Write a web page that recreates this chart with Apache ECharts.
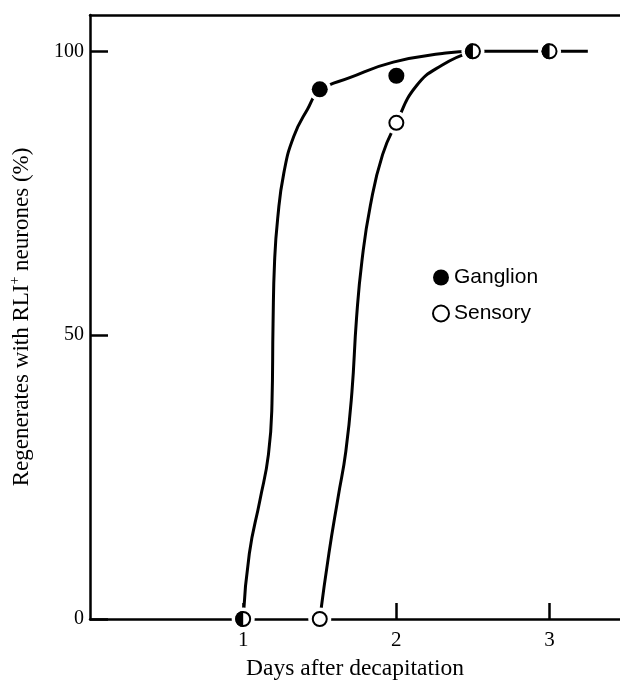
<!DOCTYPE html>
<html>
<head>
<meta charset="utf-8">
<script src="https://cdn.jsdelivr.net/npm/echarts@6/dist/echarts.min.js"></script>
<style>html,body{margin:0;padding:0;background:#fff}#c{width:620px;height:686px}</style>
</head>
<body>
<div id="c"></div>
<script>
// ---- data ----
var days = [1, 1.5, 2, 2.5, 3];
var ganglion = [0, 93.3, 95.7, 100, 100];
var sensory = [0, 0, 87.4, 100, 100];
var xTicks = [1, 2, 3];
var yTicks = [0, 50, 100];
// hand-fitted curves
var ganglionCurve = [[1,0],[1.04,11.5],[1.11,21],[1.165,29],[1.188,38],[1.195,52],[1.205,63],[1.225,70.5],[1.265,78.5],[1.33,85],[1.42,89.8],[1.5,93],[1.7,95.4],[1.98,98.1],[2.3,99.6],[2.5,100],[3,100],[3.25,100]];
var sensoryCurve = [[1.5,0],[1.56,11.6],[1.62,21.5],[1.67,29.5],[1.71,40],[1.74,53],[1.775,63],[1.83,72.8],[1.91,81.8],[2.0,87.4],[2.13,93.9],[2.3,97.6],[2.5,100]];

var serif = 'Liberation Serif';
var sans = 'Liberation Sans';
var halfDisc = 'path://M50,0 A50,50 0 0,0 50,100 Z';

var ganglionPts = days.map(function (d, i) {
  if (ganglion[i] === sensory[i]) {
    return { value: [d, ganglion[i]], symbol: halfDisc, symbolSize: [8, 16], symbolOffset: [-4, 0] };
  }
  return { value: [d, ganglion[i]] };
});
var sensoryPts = days.map(function (d, i) { return [d, sensory[i]]; });
var haloPts = [];
days.forEach(function (d, i) {
  haloPts.push([d, ganglion[i]]);
  if (sensory[i] !== ganglion[i]) haloPts.push([d, sensory[i]]);
});

var chart = echarts.init(document.getElementById('c'), null, { renderer: 'canvas' });
chart.setOption({
  animation: false,
  backgroundColor: '#fff',
  grid: { left: 83, right: 0, top: 15, bottom: 56, containLabel: false },
  legend: {
    orient: 'vertical', left: 427, top: 262,
    itemWidth: 16, itemHeight: 16, itemGap: 15, itemTextGap: 14,
    data: ['Ganglion', 'Sensory'],
    textStyle: { fontFamily: sans, fontSize: 21, color: '#000' }
  },
  xAxis: [{
    type: 'value', min: 0, max: 3.46, position: 'bottom',
    name: 'Days after decapitation', nameLocation: 'middle', nameGap: 38,
    nameTextStyle: { fontFamily: serif, fontSize: 23.5, color: '#000' },
    axisLine: { show: true, lineStyle: { color: '#000', width: 2.5 } },
    axisTick: { show: true, inside: true, length: 16, customValues: xTicks, lineStyle: { color: '#000', width: 2.5 } },
    axisLabel: { customValues: xTicks, fontFamily: serif, fontSize: 21, color: '#000', margin: 11 },
    splitLine: { show: false }
  }, {
    type: 'value', min: 0, max: 3.46, position: 'top',
    axisLine: { show: true, onZero: false, lineStyle: { color: '#000', width: 2.5 } },
    axisTick: { show: false }, axisLabel: { show: false }, splitLine: { show: false }
  }],
  yAxis: {
    type: 'value', min: 0, max: 106.4,
    name: '{a|Regenerates with RLI}{b|+}{a| neurones (%)}',
    nameLocation: 'middle', nameGap: 54, nameRotate: 90,
    nameTextStyle: {
      rich: {
        a: { fontFamily: serif, fontSize: 23, color: '#000', lineHeight: 28 },
        b: { fontFamily: serif, fontSize: 14, color: '#000', lineHeight: 28, verticalAlign: 'top' }
      }
    },
    axisLine: { show: true, lineStyle: { color: '#000', width: 2.5 } },
    axisTick: { show: true, inside: true, length: 18, customValues: yTicks, lineStyle: { color: '#000', width: 2.5 } },
    axisLabel: { customValues: yTicks, fontFamily: serif, fontSize: 20, color: '#000', margin: 6 },
    splitLine: { show: false }
  },
  series: [
    { type: 'line', name: 'gCurve', data: ganglionCurve, smooth: 0.5, showSymbol: false, clip: false, z: 2,
      lineStyle: { color: '#000', width: 3 }, silent: true },
    { type: 'line', name: 'sCurve', data: sensoryCurve, smooth: 0.5, showSymbol: false, clip: false, z: 2,
      lineStyle: { color: '#000', width: 3 }, silent: true },
    { type: 'scatter', name: 'halo', data: haloPts, symbol: 'circle', symbolSize: 23, clip: false, z: 3,
      itemStyle: { color: '#fff', opacity: 1 }, silent: true },
    { type: 'scatter', name: 'Sensory', data: sensoryPts, symbol: 'circle', symbolSize: 14, clip: false, z: 4,
      itemStyle: { color: '#fff', borderColor: '#000', borderWidth: 2, opacity: 1 } },
    { type: 'scatter', name: 'Ganglion', data: ganglionPts, symbol: 'circle', symbolSize: 16, clip: false, z: 5,
      itemStyle: { color: '#000', opacity: 1 } }
  ]
});
</script>
</body>
</html>
